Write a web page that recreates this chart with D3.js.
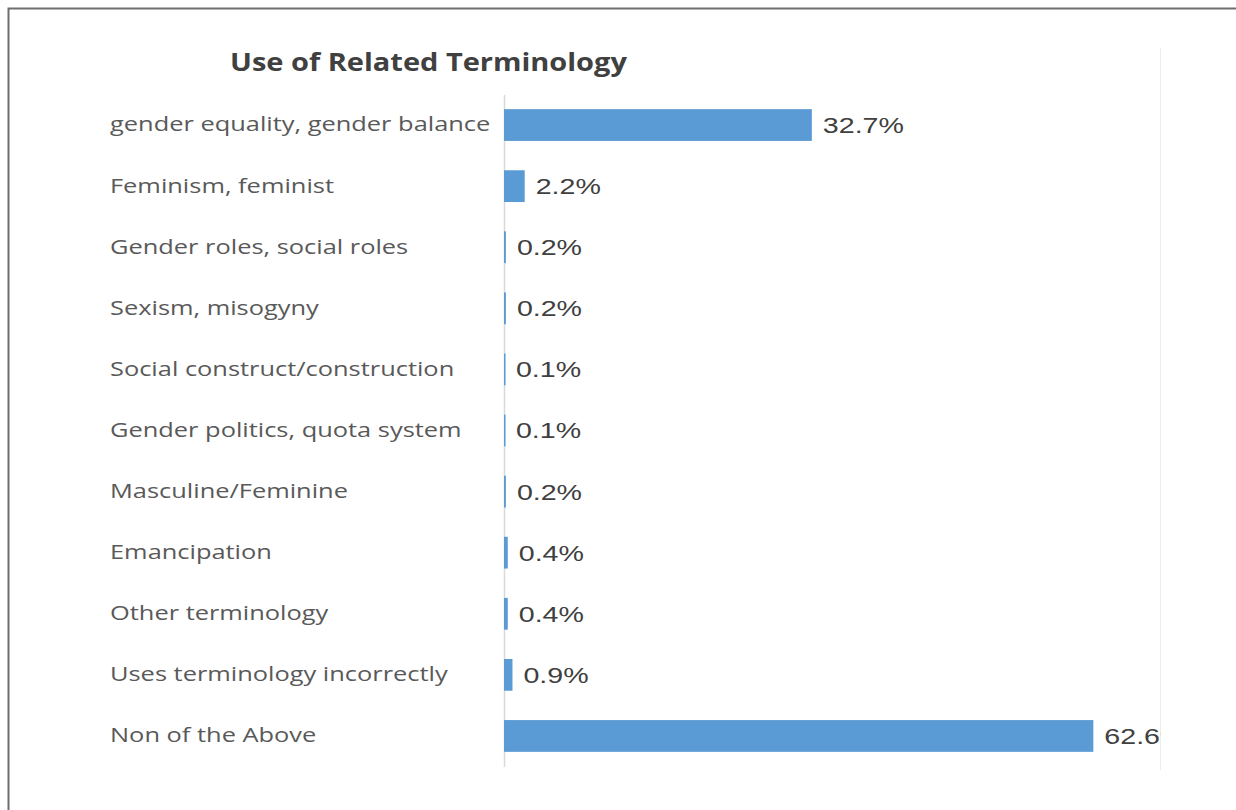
<!DOCTYPE html>
<html>
<head>
    <meta charset="utf-8">
    <title>Use of Related Terminology</title>
    <script src="https://d3js.org/d3.v7.min.js"></script>
</head>
<body style="margin:0;background:#fff">
    <div id="chart"></div>
    <script>
        // chart data
        const categories = [
            "gender equality, gender balance",
            "Feminism, feminist",
            "Gender roles, social roles",
            "Sexism, misogyny",
            "Social construct/construction",
            "Gender politics, quota system",
            "Masculine/Feminine",
            "Emancipation",
            "Other terminology",
            "Uses terminology incorrectly",
            "Non of the Above"
        ];
        const values = [32.7, 2.2, 0.2, 0.2, 0.1, 0.1, 0.2, 0.4, 0.4, 0.9, 62.6];
        const xDomain = [0, 70];

        const width = 1236, height = 810;
        const svg = d3.select("#chart").append("svg")
            .attr("width", width)
            .attr("height", height);

        // outer frame (top + left edges visible)
        svg.append("path")
            .attr("d", "M8.5,810 V8.5 H1236")
            .attr("fill", "none")
            .attr("stroke", "#6e6e6e")
            .attr("stroke-width", 2);

        const x = d3.scaleLinear().domain(xDomain).range([504, 1163]);
        const y = d3.scaleBand().domain(categories).range([94.5, 766.5]).paddingInner(0.48).paddingOuter(0.24);

        // the source picture is stretched horizontally, so text gets a scaleX
        svg.append("text")
            .attr("transform", "translate(230,71) scale(1.16,1)")
            .attr("font-family", "'Open Sans', sans-serif")
            .attr("font-weight", "bold")
            .attr("font-size", 25)
            .attr("fill", "#404040")
            .text("Use of Related Terminology");

        // faint right border of the plot area
        svg.append("line")
            .attr("x1", 1160.5).attr("x2", 1160.5)
            .attr("y1", 48).attr("y2", 770)
            .attr("stroke", "#ededed");

        svg.append("clipPath").attr("id", "plotclip")
            .append("rect").attr("x", 0).attr("y", 0).attr("width", 1161).attr("height", height);

        // category axis
        const yAxis = svg.append("g")
            .attr("transform", `translate(${x(0)},0)`)
            .call(d3.axisLeft(y).tickSize(0).tickPadding(0));
        yAxis.select(".domain").attr("stroke", "#d9d9d9").attr("stroke-width", 1.5);
        yAxis.selectAll(".tick text")
            .attr("text-anchor", "start")
            .attr("x", null)
            .attr("transform", `translate(${110 - x(0)},0) scale(1.27,1)`)
            .attr("font-family", "'Open Sans', sans-serif")
            .attr("font-size", 20)
            .attr("fill", "#595959");

        svg.selectAll("rect.bar")
            .data(values)
            .join("rect")
            .attr("class", "bar")
            .attr("x", x(0))
            .attr("y", (d, i) => y(categories[i]))
            .attr("width", d => Math.max(x(d) - x(0), 1.5))
            .attr("height", y.bandwidth())
            .attr("fill", "#5b9bd5");

        svg.append("g").attr("clip-path", "url(#plotclip)")
            .selectAll("text")
            .data(values)
            .join("text")
            .attr("transform", (d, i) => `translate(${x(d) + 11},${y(categories[i]) + y.bandwidth() / 2}) scale(1.3,1)`)
            .attr("dy", "0.36em")
            .attr("font-family", "'Liberation Sans', Arial, sans-serif")
            .attr("font-size", 22)
            .attr("fill", "#404040")
            .text(d => d3.format(".1f")(d) + "%");
    </script>
</body>
</html>
